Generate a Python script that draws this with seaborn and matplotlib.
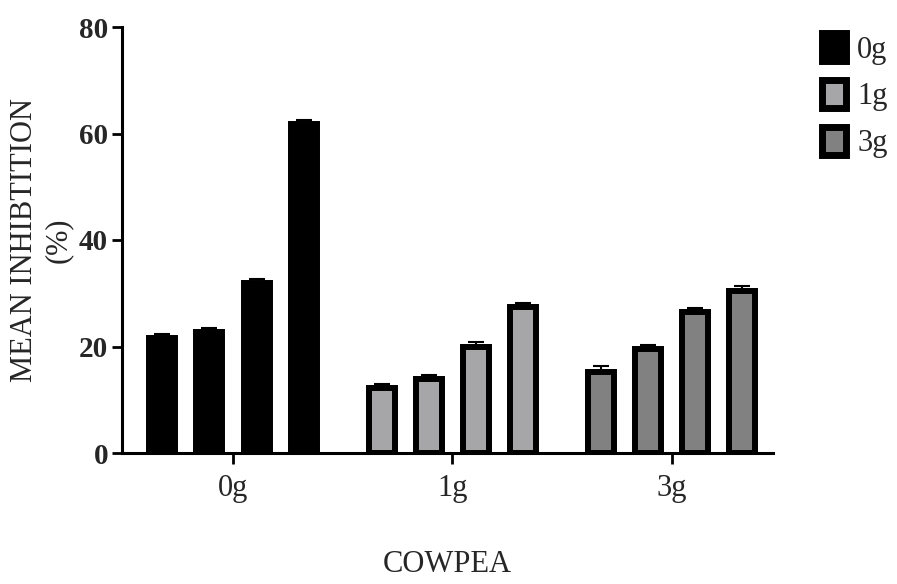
import matplotlib
matplotlib.use("Agg")
import matplotlib.pyplot as plt
from matplotlib.patches import Patch
import seaborn as sns
import pandas as pd

# ---- data ----
groups = ["0g", "1g", "3g"]
levels = ["A", "B", "C", "D"]
vals_0g = [21.6, 22.7, 31.9, 61.8]
vals_1g = [12.2, 13.9, 20.0, 27.4]
vals_3g = [15.2, 19.5, 26.4, 30.5]
err_0g = [0.3, 0.2, 0.3, 0.3]
err_1g = [0.3, 0.3, 0.3, 0.3]
err_3g = [0.6, 0.3, 0.3, 0.3]
yticks = [0, 20, 40, 60, 80]

group_colors = {"0g": "#000000", "1g": "#a6a6a9", "3g": "#818181"}

rows = []
for g, vs, es in zip(groups, [vals_0g, vals_1g, vals_3g], [err_0g, err_1g, err_3g]):
    for lv, v, e in zip(levels, vs, es):
        rows.append({"group": g, "level": lv, "value": v, "err": e})
df = pd.DataFrame(rows)

sns.set_theme(style="ticks")
plt.rcParams["font.family"] = ["Liberation Serif", "DejaVu Serif"]

fig = plt.figure(figsize=(8.97, 5.84), dpi=100)
ax = fig.add_axes([122 / 897, 1 - 453 / 584, (773 - 122) / 897, (453 - 27) / 584])

sns.barplot(data=df, x="group", y="value", hue="level", order=groups,
            hue_order=levels, width=0.858, gap=0.447, errorbar=None,
            palette=["#000000"] * 4, edgecolor="black", linewidth=4.3,
            legend=False, ax=ax, zorder=2)

# recolor bars per group and add small error bars
for cont, lv in zip(ax.containers, levels):
    for i, bar in enumerate(cont):
        g = groups[i]
        bar.set_facecolor(group_colors[g])
        bar.set_edgecolor("black")
        sub = df[(df.group == g) & (df.level == lv)].iloc[0]
        cx = bar.get_x() + bar.get_width() / 2
        top = bar.get_height()
        ax.errorbar([cx], [top], yerr=[[0], [sub.err + 0.5]], fmt="none",
                    ecolor="black", elinewidth=1.5, capsize=6, capthick=1.5,
                    zorder=1)

ax.set_xlim(-0.506, 2.462)
ax.set_ylim(0, 80)
ax.set_yticks(yticks)
ax.set_yticklabels([str(t) for t in yticks], fontsize=21, fontweight="bold")
ax.tick_params(axis="x", labelsize=22, length=8, width=2, pad=7, color="black")
ax.tick_params(axis="y", length=7, width=2, pad=3, color="black")
for s in ["top", "right"]:
    ax.spines[s].set_visible(False)
for s in ["left", "bottom"]:
    ax.spines[s].set_linewidth(2.2)
    ax.spines[s].set_color("black")

ax.set_xlabel("COWPEA", fontsize=22, labelpad=34)
ax.set_ylabel("MEAN INHIBTITION\n(%)", fontsize=22, labelpad=4, linespacing=1.25)

handles = [Patch(facecolor=group_colors[g], edgecolor="black", linewidth=5, label=g)
           for g in groups]
fig.legend(handles=handles, loc="upper left", bbox_to_anchor=(822 / 897, 1 - 33 / 584),
           frameon=False, fontsize=22, handlelength=0.8, handleheight=1.05,
           labelspacing=0.5, handletextpad=0.35, borderpad=0, borderaxespad=0)

fig.savefig("out.png", dpi=100)
